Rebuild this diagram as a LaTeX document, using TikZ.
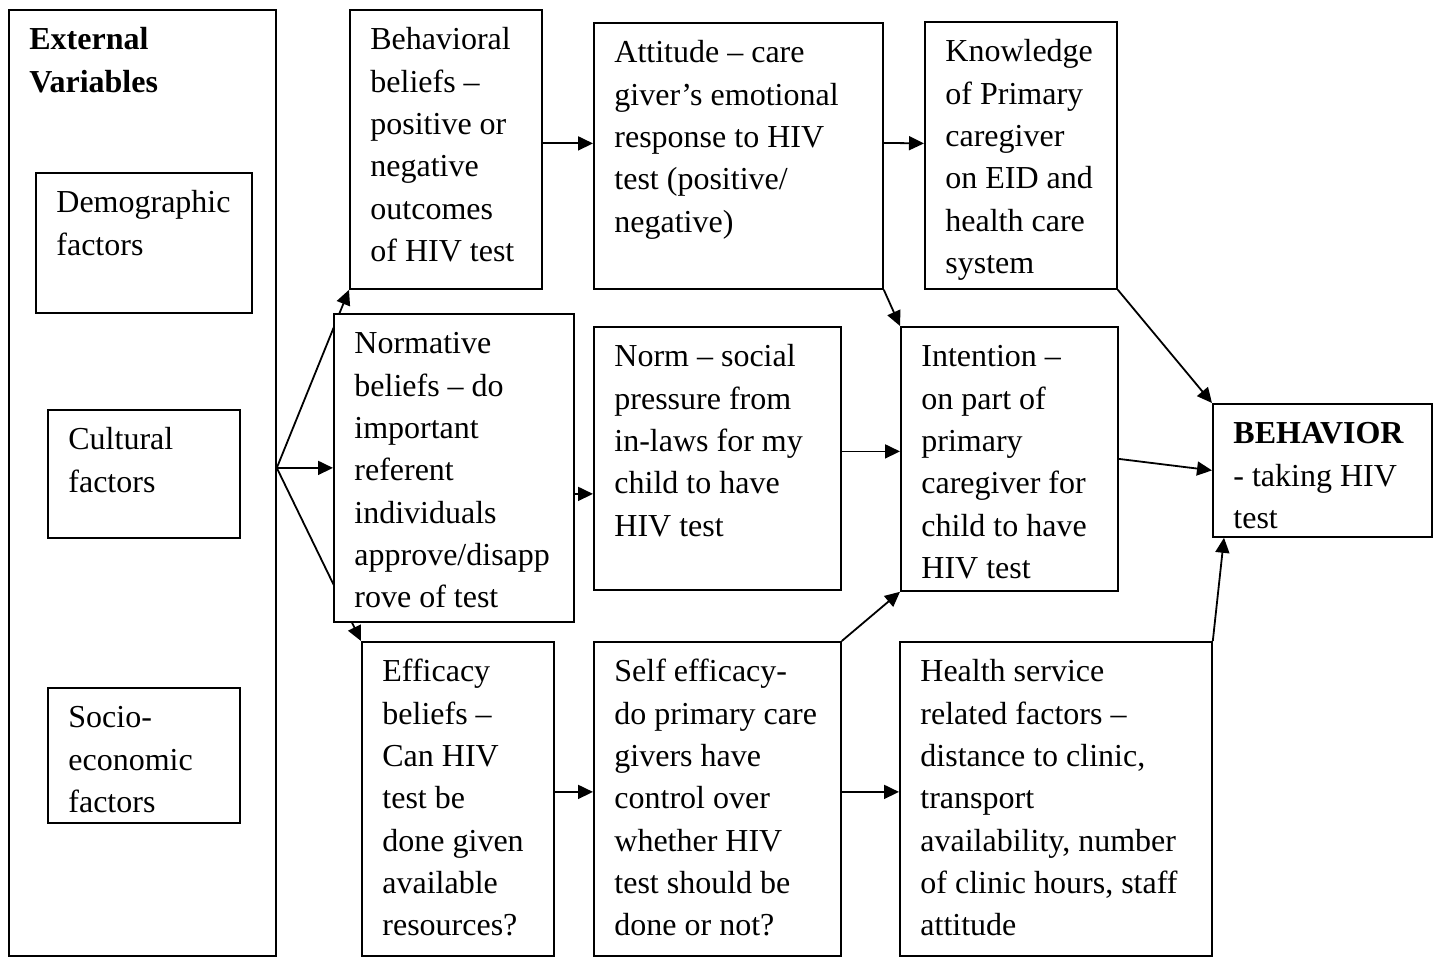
\documentclass[tikz,border=0pt]{standalone}
\usepackage{fontspec}
\setmainfont{Liberation Serif}
\usepackage{tikz}
\usetikzlibrary{arrows.meta,positioning,calc,backgrounds}

\begin{document}
\begin{tikzpicture}[x=0.5pt,y=-0.5pt,>={Triangle[length=7.5pt,width=7pt]},
  blk/.style 2 args={draw,line width=0.9pt,fill=white,anchor=north west,align=flush left,
    inner xsep=10.25pt,inner ysep=0pt,text height=20pt,text width=#1,text depth=#2,
    font=\fontsize{16pt}{21.15pt}\selectfont},
  arr/.style={->,line width=0.9pt}]
  \useasboundingbox (0,0) rectangle (1439,957);
  \node[blk={113pt}{453pt}](ext)at(8,9){\textbf{External}\\\textbf{Variables}};
  \node[blk={87.5pt}{50pt}](demo)at(35,172){Demographic\\factors};
  \node[blk={75.5pt}{44pt}](cult)at(47,409){Cultural\\factors};
  \node[blk={75.5pt}{47.5pt}](socio)at(47,687){Socio-\\economic\\factors};
  \node[blk={75.5pt}{119.5pt}](beh)at(349,9){Behavioral\\beliefs --\\positive or\\negative\\outcomes\\of HIV test};
  \node[blk={124pt}{113pt}](att)at(593,22){Attitude -- care\\giver’s emotional\\response to HIV\\test (positive/\\negative)};
  \node[blk={75.5pt}{113.5pt}](know)at(924,21){Knowledge\\of Primary\\caregiver\\on EID and\\health care\\system};
  \node[blk={99.5pt}{134pt}](nbel)at(333,313){Normative\\beliefs -- do\\important\\referent\\individuals\\approve/disapp\\rove of test};
  \node[blk={103pt}{111.5pt}](nsoc)at(593,326){Norm -- social\\pressure from\\in-laws for my\\child to have\\HIV test};
  \node[blk={88pt}{112pt}](intent)at(900,326){Intention --\\on part of\\primary\\caregiver for\\child to have\\HIV test};
  \node[blk={89pt}{46.5pt}](behav)at(1212,403){\textbf{BEHAVIOR}\\- taking HIV\\test};
  \node[blk={75.5pt}{137pt}](eff)at(361,641){Efficacy\\beliefs --\\Can HIV\\test be\\done given\\available\\resources?};
  \node[blk={103pt}{137pt}](self)at(593,641){Self efficacy-\\do primary care\\givers have\\control over\\whether HIV\\test should be\\done or not?};
  \node[blk={135.5pt}{137pt}](health)at(899,641){Health service\\related factors --\\distance to clinic,\\transport\\availability, number\\of clinic hours, staff\\attitude};
  \coordinate (split) at (ext.east |- nbel.west);
  \begin{scope}[on background layer]
    \draw[arr] (split) -- (beh.south west);
    \draw[arr] (split) -- (eff.north west);
  \end{scope}
  \draw[arr] (split) -- (nbel.west);
  \draw[arr] ([yshift=3pt]beh.east) -- ([yshift=3pt]beh.east -| att.west);
  \draw[arr] ([yshift=6.5pt]att.east) -- ([yshift=6pt]know.west);
  \draw[arr] (att.south east) -- (intent.north west);
  \draw[arr] (know.south east) -- (behav.north west);
  \draw[arr] ([yshift=-13pt]nbel.east) -- ([yshift=-13pt]nbel.east -| nsoc.west);
  \draw[arr] ([yshift=3.5pt]nsoc.east) -- ([yshift=3.5pt]nsoc.east -| intent.west);
  \draw[arr] (intent.east) -- (behav.west);
  \draw[arr] (self.north east) -- (intent.south west);
  \draw[arr] ([yshift=3.5pt]eff.east) -- ([yshift=3.5pt]eff.east -| self.west);
  \draw[arr] ([yshift=3.5pt]self.east) -- ([yshift=3.5pt]self.east -| health.west);
  \draw[arr] (health.north east) -- ([xshift=6pt]behav.south west);
\end{tikzpicture}
\end{document}
